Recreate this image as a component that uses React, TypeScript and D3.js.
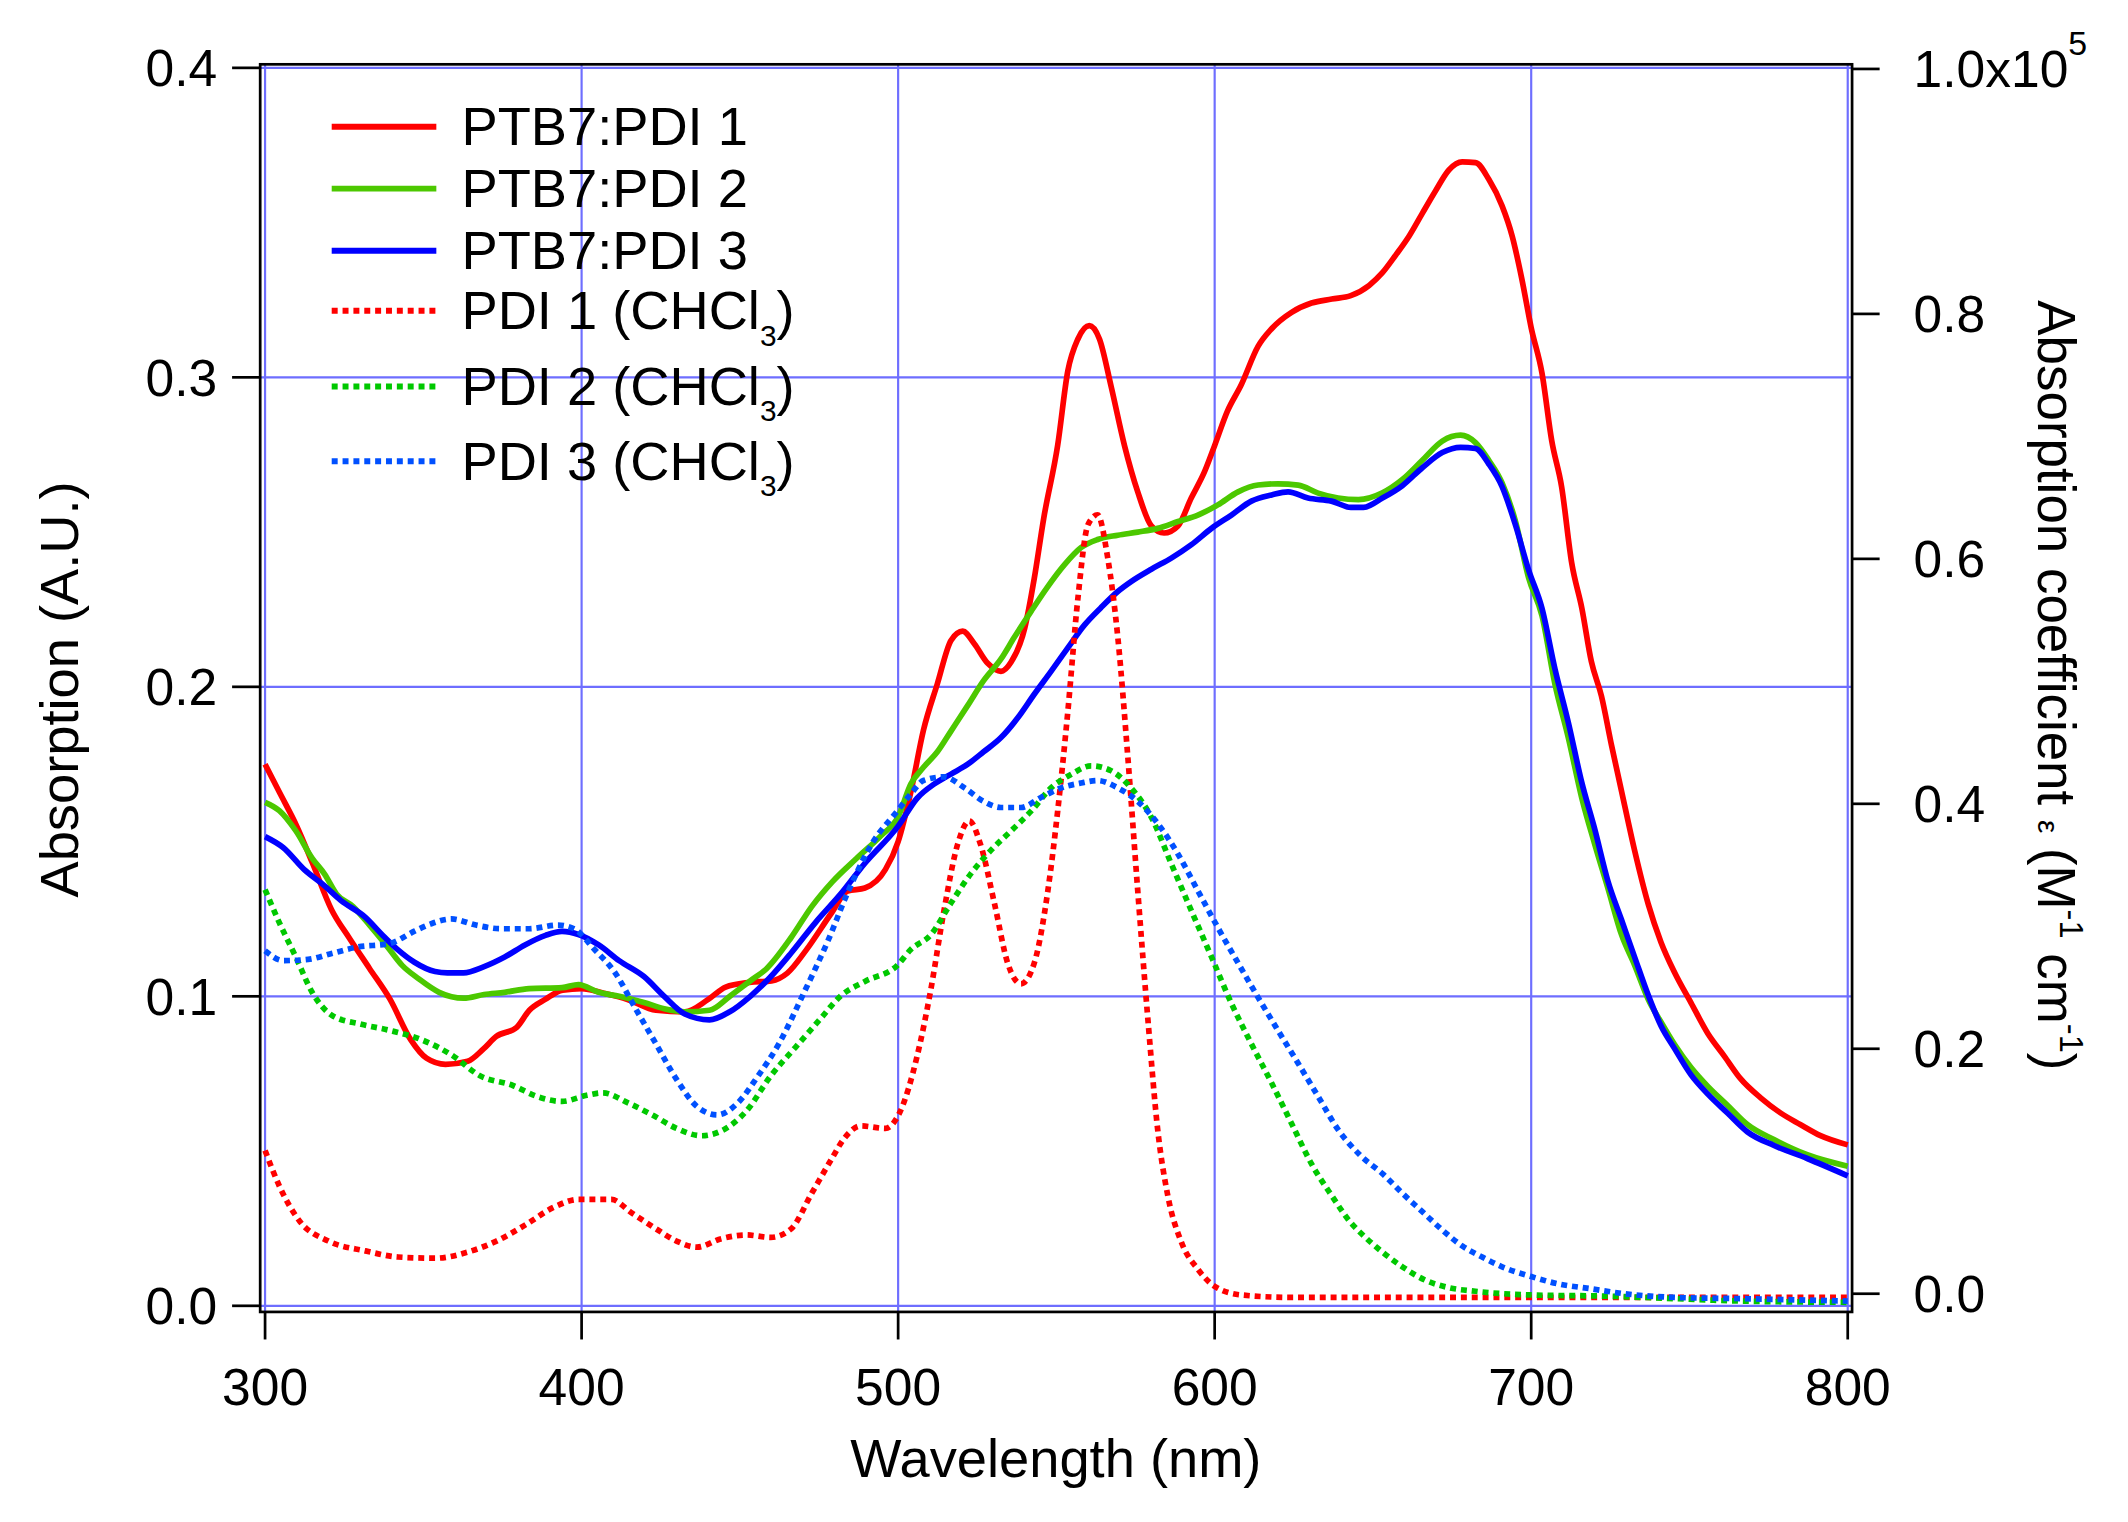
import React from 'react';
import { scaleLinear, line, curveMonotoneX } from 'd3';

type Pt = [number, number]

// PTB7 blend films, left axis (A.U.)
const ptb7Pdi1: Pt[] = [
  [300, 0.175], [304.5, 0.166], [310, 0.155], [315, 0.143], [321, 0.128], [326.5, 0.119],
  [333, 0.109], [339.5, 0.099], [346, 0.086], [351, 0.080], [357, 0.078], [364, 0.079],
  [369, 0.083], [373, 0.087], [379.5, 0.090], [383.5, 0.0955], [388.5, 0.099], [394, 0.102],
  [400, 0.1025], [407, 0.101], [414.5, 0.099], [423.5, 0.0955], [432.6, 0.095], [440, 0.099],
  [445.5, 0.103], [453, 0.1045], [460, 0.105], [465, 0.1075], [471, 0.115], [479, 0.127],
  [484, 0.134], [489.5, 0.135], [496, 0.141], [500, 0.150], [504, 0.166], [508, 0.186],
  [512.4, 0.201], [516.7, 0.215], [520.4, 0.218], [524, 0.214], [528.3, 0.2076], [532.5, 0.205],
  [535.7, 0.208], [540, 0.219], [543, 0.235], [546, 0.2545], [550.4, 0.278], [553.6, 0.302],
  [556.8, 0.3124], [560.4, 0.3167], [563.6, 0.3124], [567.3, 0.297], [571.5, 0.278], [575.7, 0.263],
  [580, 0.252], [584, 0.2497], [588.4, 0.252], [592.6, 0.261], [596.8, 0.2695], [600, 0.278],
  [604, 0.289], [608.4, 0.2976], [613.7, 0.310], [618, 0.3157], [624.3, 0.321], [630.6, 0.324],
  [637, 0.3253], [643, 0.3264], [648.8, 0.3297], [653, 0.3338], [657.2, 0.3395], [661.4, 0.3456],
  [665.6, 0.353], [669.8, 0.3603], [674, 0.367], [678.2, 0.3696], [682.4, 0.3694], [686.6, 0.364],
  [690.8, 0.3554], [694, 0.3456], [697, 0.332], [700, 0.316], [703.4, 0.3014], [706.5, 0.2794],
  [709.6, 0.2647], [712.8, 0.240], [716, 0.2254], [719, 0.2082], [722.2, 0.197], [725.4, 0.181],
  [728.5, 0.1665], [732.7, 0.147], [737, 0.1297], [741, 0.1175], [745.3, 0.1077], [750.5, 0.0979],
  [755.8, 0.088], [761, 0.0807], [766.2, 0.0733], [772.5, 0.0672], [778.8, 0.0623], [785, 0.0586],
  [791.4, 0.055], [800, 0.052],
]

const ptb7Pdi2: Pt[] = [
  [300, 0.1627], [304.5, 0.160], [309.7, 0.1535], [314.9, 0.1446], [318.8, 0.1395], [322.6, 0.133],
  [327.8, 0.129], [333, 0.123], [338.2, 0.1166], [343.3, 0.110], [348.5, 0.1057], [355, 0.1013],
  [362.7, 0.0994], [369.2, 0.1006], [375.7, 0.1013], [383.4, 0.1025], [393.8, 0.1028], [399, 0.1038],
  [405.4, 0.1013], [411.9, 0.100], [419.7, 0.098], [426.1, 0.096], [432.6, 0.095], [440.4, 0.0955],
  [446.8, 0.100], [453.3, 0.105], [458.5, 0.109], [466.2, 0.119], [472.7, 0.129], [479.2, 0.137],
  [486.9, 0.1446], [494.7, 0.152], [500, 0.158], [504, 0.1686], [508, 0.174], [512.4, 0.179],
  [516.7, 0.1857], [522, 0.194], [527, 0.202], [532.5, 0.209], [536.7, 0.216], [542, 0.2244],
  [547, 0.232], [552.5, 0.2394], [557.8, 0.245], [563, 0.2476], [569.4, 0.249], [575.7, 0.250],
  [582, 0.2512], [588.4, 0.2534], [594.7, 0.2555], [601, 0.2588], [607.4, 0.263], [613.7, 0.2652],
  [620, 0.2656], [626.4, 0.2652], [632.7, 0.2626], [639, 0.261], [645.4, 0.2605], [653, 0.2627],
  [659.3, 0.267], [665.6, 0.2732], [671.9, 0.2794], [677.7, 0.2813], [682.4, 0.2789], [686.6, 0.2732],
  [690.8, 0.2659], [695, 0.2536], [699.2, 0.2352], [703.4, 0.223], [707.5, 0.2009], [711.7, 0.1837],
  [716, 0.164], [720, 0.1494], [724.3, 0.1347], [728.5, 0.120], [732.7, 0.110], [737, 0.099],
  [741, 0.0917], [745.3, 0.0844], [750.5, 0.077], [755.8, 0.0709], [762, 0.0648], [768.3, 0.0586],
  [776.7, 0.0537], [787.2, 0.0488], [800, 0.0451],
]

const ptb7Pdi3: Pt[] = [
  [300, 0.1516], [305.8, 0.148], [312.3, 0.141], [318.8, 0.1357], [323.9, 0.131], [331.7, 0.1255],
  [336.9, 0.120], [342, 0.115], [347.2, 0.111], [353.7, 0.108], [357.6, 0.1076], [362.7, 0.1076],
  [369.2, 0.1096], [375.7, 0.1127], [382.1, 0.1166], [388.6, 0.1197], [393.8, 0.121], [399, 0.120],
  [405.4, 0.1166], [411.9, 0.1115], [419.7, 0.1064], [426.1, 0.100], [432.6, 0.0943], [440.4, 0.0924],
  [446.8, 0.095], [453.3, 0.100], [459.8, 0.1064], [466.2, 0.114], [474, 0.124], [481.8, 0.133],
  [489.5, 0.143], [500, 0.155], [506, 0.164], [511.4, 0.1686], [516.7, 0.1718], [522, 0.175],
  [527, 0.179], [532.5, 0.1836], [537.8, 0.190], [543, 0.1976], [548.3, 0.205], [553.6, 0.2126],
  [558.9, 0.220], [564, 0.2255], [569.4, 0.2308], [573.6, 0.234], [580, 0.238], [586.3, 0.2416],
  [592.6, 0.2459], [599, 0.2512], [605.3, 0.2555], [611.6, 0.260], [618, 0.262], [623.2, 0.263],
  [629.5, 0.261], [636.9, 0.260], [643, 0.258], [647, 0.258], [653, 0.261], [659.3, 0.265],
  [665.6, 0.2708], [671.9, 0.2757], [677.7, 0.2774], [682.4, 0.277], [686.6, 0.272], [690.8, 0.2647],
  [695, 0.2524], [699.2, 0.2377], [703.4, 0.2254], [707.5, 0.2058], [711.7, 0.1886], [716, 0.169],
  [720, 0.1543], [724.3, 0.137], [728.5, 0.1248], [732.7, 0.1126], [737, 0.1003], [741, 0.0905],
  [745.3, 0.0831], [750.5, 0.0746], [755.8, 0.0684], [762, 0.0623], [768.3, 0.0562], [776.7, 0.0518],
  [787.2, 0.0476], [800, 0.042],
]

// PDI solutions in CHCl3, right axis (x10^5 M^-1 cm^-1)
const pdi1Solution: Pt[] = [
  [300, 0.117], [304.5, 0.088], [311, 0.059], [320, 0.043], [331.7, 0.035], [342, 0.030],
  [353.7, 0.029], [364, 0.034], [373.1, 0.043], [382.1, 0.056], [391.5, 0.071], [399, 0.077],
  [409.4, 0.077], [415.8, 0.066], [423.5, 0.053], [430, 0.043], [436.4, 0.038], [444.2, 0.045],
  [452, 0.048], [459.8, 0.046], [466.2, 0.053], [472.7, 0.082], [479.2, 0.111], [483, 0.127],
  [488.2, 0.137], [496, 0.135], [500.5, 0.148], [506, 0.194], [510.3, 0.248], [514.5, 0.313],
  [518.8, 0.367], [522.5, 0.386], [526, 0.367], [530.4, 0.319], [534.6, 0.270], [538.8, 0.253],
  [543, 0.270], [547.3, 0.329], [550.4, 0.394], [553.6, 0.475], [556.8, 0.568], [560, 0.628],
  [563, 0.636], [566.2, 0.601], [569.4, 0.536], [572.6, 0.437], [575.7, 0.329], [579, 0.221],
  [582, 0.134], [585.2, 0.080], [589.5, 0.042], [594.7, 0.020], [600, 0.006], [608.4, -0.001],
  [624.3, -0.003], [700, -0.003], [800, -0.003],
]

const pdi2Solution: Pt[] = [
  [300, 0.330], [304.5, 0.303], [309.7, 0.275], [314.9, 0.246], [321.3, 0.227], [330.4, 0.220],
  [339.4, 0.215], [349.8, 0.207], [358.9, 0.195], [367.9, 0.178], [378.3, 0.170], [386, 0.161],
  [393.8, 0.157], [401.6, 0.162], [406.7, 0.164], [414.5, 0.156], [422.3, 0.146], [430, 0.135],
  [437.8, 0.129], [444.2, 0.133], [452, 0.149], [459.8, 0.178], [467.5, 0.201], [475.3, 0.224],
  [481.8, 0.243], [489.5, 0.255], [499.7, 0.268], [504, 0.281], [510.3, 0.293], [516.7, 0.319],
  [523, 0.343], [529.3, 0.362], [535.7, 0.378], [542, 0.394], [548.3, 0.413], [554.6, 0.424],
  [561, 0.431], [567.3, 0.427], [573.6, 0.413], [580, 0.389], [586.3, 0.351], [592.6, 0.313],
  [599, 0.275], [605.3, 0.237], [611.6, 0.204], [618, 0.172], [624.3, 0.139], [630.6, 0.106],
  [637, 0.080], [643, 0.058], [646.8, 0.048], [653, 0.034], [659.3, 0.022], [666.6, 0.011],
  [673.9, 0.005], [682.4, 0.002], [700, -0.001], [724.3, -0.002], [745.3, -0.004], [766.2, -0.006],
  [800, -0.007],
]

const pdi3Solution: Pt[] = [
  [300, 0.280], [305.8, 0.272], [313.6, 0.273], [321.3, 0.278], [329.1, 0.283], [339.4, 0.286],
  [347.2, 0.296], [352.4, 0.302], [358.9, 0.306], [366.6, 0.301], [374.4, 0.298], [383.4, 0.298],
  [392.5, 0.301], [397.6, 0.298], [404.1, 0.281], [410.6, 0.262], [417, 0.233], [423.5, 0.204],
  [430, 0.175], [436.4, 0.153], [442.9, 0.146], [449.4, 0.156], [455.8, 0.178], [462.3, 0.204],
  [470.1, 0.245], [477.8, 0.288], [484.3, 0.329], [492.1, 0.369], [499.7, 0.394], [504, 0.408],
  [508, 0.419], [514.5, 0.422], [521, 0.413], [527, 0.402], [532.5, 0.397], [538.8, 0.397],
  [545, 0.405], [551.5, 0.413], [557.8, 0.417], [563, 0.419], [569.4, 0.413], [575.7, 0.402],
  [582, 0.384], [588.4, 0.359], [594.7, 0.329], [601, 0.299], [607.4, 0.270], [613.7, 0.242],
  [620, 0.215], [626.4, 0.188], [632.7, 0.161], [639, 0.134], [646, 0.113], [653, 0.098],
  [659.3, 0.082], [665.6, 0.067], [671.9, 0.052], [678.2, 0.039], [684.5, 0.030], [690.8, 0.022],
  [700, 0.014], [708.6, 0.008], [719, 0.004], [729.5, 0.000], [745.3, -0.003], [766.2, -0.004],
  [800, -0.006],
]

const xTicks = [300, 400, 500, 600, 700, 800]
const leftTicks = [0, 0.1, 0.2, 0.3, 0.4]
const rightTicks = [0, 0.2, 0.4, 0.6, 0.8, 1.0]

const series = [
  { name: 'PTB7:PDI 1', data: ptb7Pdi1, color: '#ff0000', dotted: false, axis: 'left' },
  { name: 'PTB7:PDI 2', data: ptb7Pdi2, color: '#4cc800', dotted: false, axis: 'left' },
  { name: 'PTB7:PDI 3', data: ptb7Pdi3, color: '#0000ff', dotted: false, axis: 'left' },
  { name: 'PDI 1', data: pdi1Solution, color: '#ff0000', dotted: true, axis: 'right' },
  { name: 'PDI 2', data: pdi2Solution, color: '#00c800', dotted: true, axis: 'right' },
  { name: 'PDI 3', data: pdi3Solution, color: '#0050ff', dotted: true, axis: 'right' },
]

// drawing units: the picture is laid out on a 1568 wide grid, then scaled up
const W = 1568
const H = 1121.5
const frame = { left: 191.7, right: 1364.7, top: 47.4, bottom: 966.7 }
const font = '"Liberation Sans", Arial, Helvetica, sans-serif'
const gridColor = '#6e6eff'
const dash = '4.4,3.6'
const legendRows = [93.4, 139, 184.7, 229, 284.8, 339.8]

function App() {
  const x = scaleLinear().domain([300, 800]).range([195.3, 1361.5])
  const yL = scaleLinear().domain([0, 0.4]).range([962.2, 50])
  const yR = scaleLinear().domain([0, 1]).range([953.3, 50.8])

  const path = (data: Pt[], axis: string) => {
    const y = axis === 'left' ? yL : yR
    return line<Pt>()
      .x(d => x(d[0]))
      .y(d => y(d[1]))
      .curve(curveMonotoneX)(data) ?? ''
  }

  return (
    <svg
      width={2128}
      height={1522}
      viewBox={`0 0 ${W} ${H}`}
      style={{ position: 'absolute', left: 0, top: 0, background: '#fff' }}
      fontFamily={font}
    >
      <rect x={0} y={0} width={W} height={H} fill="#fff" />

      {/* grid */}
      <g stroke={gridColor} strokeWidth={1.6}>
        {xTicks.map(t => (
          <line key={'gx' + t} x1={x(t)} x2={x(t)} y1={frame.top} y2={frame.bottom} />
        ))}
        {leftTicks.map(t => (
          <line key={'gy' + t} x1={frame.left} x2={frame.right} y1={yL(t)} y2={yL(t)} />
        ))}
      </g>

      {/* traces */}
      <g fill="none" strokeLinejoin="round">
        {series.map(s => (
          <path
            key={s.name}
            d={path(s.data, s.axis)}
            stroke={s.color}
            strokeWidth={4.2}
            strokeDasharray={s.dotted ? dash : undefined}
            strokeLinecap="butt"
          />
        ))}
      </g>

      {/* frame and ticks */}
      <g stroke="#000" strokeWidth={2} fill="none">
        <rect x={frame.left} y={frame.top} width={frame.right - frame.left} height={frame.bottom - frame.top} />
        {leftTicks.map(t => (
          <line key={'lt' + t} x1={171} x2={frame.left} y1={yL(t)} y2={yL(t)} />
        ))}
        {xTicks.map(t => (
          <line key={'bt' + t} x1={x(t)} x2={x(t)} y1={frame.bottom} y2={987} />
        ))}
        {rightTicks.map(t => (
          <line key={'rt' + t} x1={frame.right} x2={1385} y1={yR(t)} y2={yR(t)} />
        ))}
      </g>

      {/* tick labels */}
      <g fontSize={38} fill="#000">
        {leftTicks.map(t => (
          <text key={'ll' + t} x={160} y={yL(t) + 13.5} textAnchor="end">{t.toFixed(1)}</text>
        ))}
        {xTicks.map(t => (
          <text key={'bl' + t} x={x(t)} y={1035.5} textAnchor="middle">{t}</text>
        ))}
        {rightTicks.map(t => (
          <text key={'rl' + t} x={1410} y={yR(t) + 13.5}>
            {t === 1 ? (
              <>
                1.0x10<tspan dy={-24} fontSize={25}>5</tspan>
              </>
            ) : t.toFixed(1)}
          </text>
        ))}
      </g>

      {/* axis titles */}
      <g fontSize={40} fill="#000">
        <text x={778} y={1088} textAnchor="middle">Wavelength (nm)</text>
        <text transform="translate(57.7,508) rotate(-90)" textAnchor="middle">Absorption (A.U.)</text>
        <text transform="translate(1502,505) rotate(90)" textAnchor="middle" fontSize={39}>
          Absorption coefficient <tspan fontSize={22}>ε</tspan> (M
          <tspan dy={-16} fontSize={24}>-1</tspan>
          <tspan dy={16}> cm</tspan>
          <tspan dy={-16} fontSize={24}>-1</tspan>
          <tspan dy={16}>)</tspan>
        </text>
      </g>

      {/* legend */}
      <g fontSize={40} fill="#000">
        {series.map((s, i) => (
          <g key={'lg' + s.name}>
            <line
              x1={244.4}
              x2={321.5}
              y1={legendRows[i]}
              y2={legendRows[i]}
              stroke={s.color}
              strokeWidth={4.4}
              strokeDasharray={s.dotted ? dash : undefined}
            />
            <text x={340} y={legendRows[i] + 13.6}>
              {s.dotted ? (
                <>
                  {s.name} (CHCl<tspan dy={12} fontSize={22}>3</tspan><tspan dy={-12}>)</tspan>
                </>
              ) : s.name}
            </text>
          </g>
        ))}
      </g>
    </svg>
  );
}

export default App;
